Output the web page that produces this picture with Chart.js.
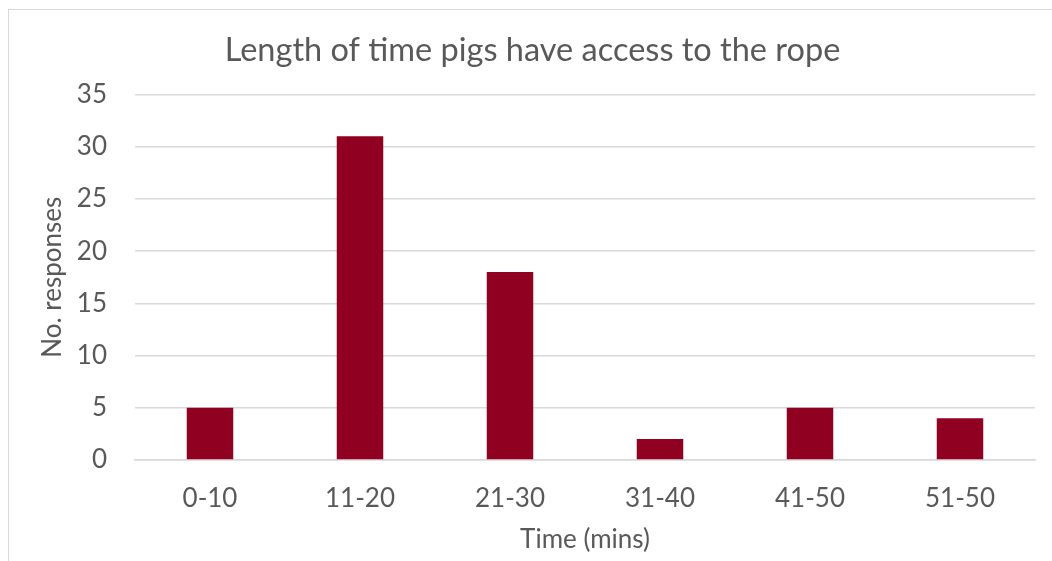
<!DOCTYPE html>
<html>
<head>
<meta charset="utf-8">
<script src="https://cdn.jsdelivr.net/npm/chart.js@4.4.1/dist/chart.umd.min.js"></script>
<style>
  html, body { margin: 0; padding: 0; background: #ffffff; overflow: hidden; }
  #wrap { position: absolute; left: 0; top: 0; width: 1052px; height: 561px; }
  #frame { position: absolute; left: 8px; top: 9px; width: 1100px; height: 600px;
           border: 1px solid #d9d9d9; box-sizing: border-box; }
  canvas { position: absolute; left: 0; top: 0; }
</style>
</head>
<body>
<div id="wrap">
  <div id="frame"></div>
  <canvas id="chart" width="1052" height="561"></canvas>
</div>
<script>
// Survey results: how long pigs get access to the rope
const chartTitle = 'Length of time pigs have access to the rope';
const categories = ['0-10', '11-20', '21-30', '31-40', '41-50', '51-50'];
const responses = [5, 31, 18, 2, 5, 4];
const xAxisTitle = 'Time (mins)';
const yAxisTitle = 'No. responses';

const FONT = 'Lato, "Open Sans", sans-serif';
const TEXT = '#595959';
const GRID = '#d9d9d9';

new Chart(document.getElementById('chart'), {
  type: 'bar',
  data: {
    labels: categories,
    datasets: [{
      data: responses,
      backgroundColor: '#8f0021',
      borderWidth: 0,
      barPercentage: 0.62,
      categoryPercentage: 0.5
    }]
  },
  options: {
    responsive: false,
    animation: false,
    layout: { padding: { left: 30, right: 17, top: 0, bottom: 6 } },
    plugins: {
      legend: { display: false },
      tooltip: { enabled: false },
      title: {
        display: true,
        text: chartTitle,
        color: TEXT,
        font: { family: FONT, size: 32.5, weight: 'normal' },
        padding: { top: 31.5, bottom: 24 }
      }
    },
    scales: {
      x: {
        grid: { display: false },
        border: { display: true, color: GRID, width: 1.5 },
        ticks: { color: TEXT, font: { family: FONT, size: 26 }, padding: 15 },
        title: { display: true, text: xAxisTitle, color: TEXT,
                 font: { family: FONT, size: 26 }, padding: { top: 0, bottom: 0 } },
        afterFit: s => { s.height = 95; }
      },
      y: {
        min: 0, max: 35,
        ticks: { stepSize: 5, color: TEXT, font: { family: FONT, size: 26 }, padding: 28 },
        grid: { color: GRID, lineWidth: 1.5, drawTicks: false },
        border: { display: false },
        title: { display: true, text: yAxisTitle, color: TEXT,
                 font: { family: FONT, size: 26 }, padding: { top: 7.5, bottom: 0 } },
        afterFit: s => { s.width = 105; }
      }
    }
  }
});
</script>
</body>
</html>
